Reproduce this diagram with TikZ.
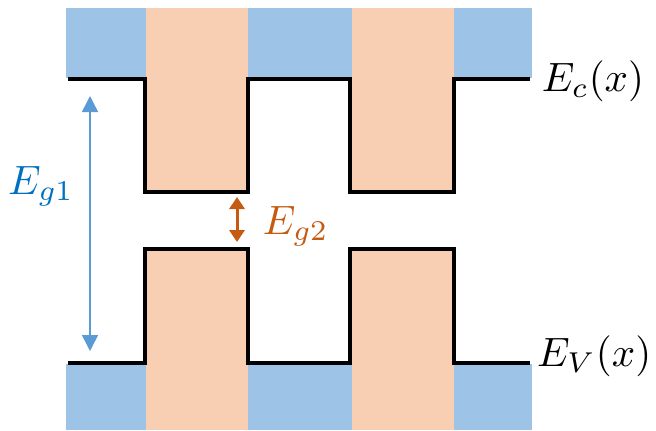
\documentclass[tikz,border=0pt]{standalone}
\usepackage{xcolor}
\usetikzlibrary{arrows.meta}

\definecolor{bandblue}{HTML}{9DC3E6}
\definecolor{wellorange}{HTML}{F8CFB2}
\definecolor{gapblue}{HTML}{5B9BD5}
\definecolor{labelblue}{HTML}{0070C0}
\definecolor{gaporange}{HTML}{C55A11}

\begin{document}
\begin{tikzpicture}[x=0.5pt, y=-0.5pt]
        \tikzstyle{barrier} = [fill=bandblue, draw=none]
        \tikzstyle{well} = [fill=wellorange, draw=none]
        \tikzstyle{edge} = [draw=black, line width=2pt, line join=miter]
        \tikzstyle{lbl} = [inner sep=0pt, scale=2.05]

        \useasboundingbox (0,0) rectangle (656,430);

        % conduction band
        \fill [barrier] (66,8) rectangle (146,78);
        \fill [barrier] (248,8) rectangle (352,78);
        \fill [barrier] (454,8) rectangle (532,78);
        \fill [well] (146,8) rectangle (248,192);
        \fill [well] (352,8) rectangle (454,192);
        \draw [edge] (68,79) -- (145,79) -- (145,192) -- (248,192) -- (248,79)
            -- (350,79) -- (350,192) -- (454,192) -- (454,79) -- (530,79);

        % valence band
        \fill [barrier] (66,364) rectangle (146,430);
        \fill [barrier] (248,364) rectangle (352,430);
        \fill [barrier] (454,364) rectangle (532,430);
        \fill [well] (146,249) rectangle (248,430);
        \fill [well] (352,249) rectangle (454,430);
        \draw [edge] (68,363) -- (145,363) -- (145,249) -- (248,249) -- (248,363)
            -- (350,363) -- (350,249) -- (454,249) -- (454,363) -- (530,363);

        % gaps
        \coordinate (g1top) at (90,96);
        \coordinate (g1bot) at (90,351);
        \coordinate (g2top) at (237,197);
        \coordinate (g2bot) at (237,242);
        \draw [gapblue, line width=0.75pt, {Triangle[width=8pt,length=8pt]}-{Triangle[width=8pt,length=8pt]}] (g1top) -- (g1bot);
        \draw [gaporange, line width=1.5pt, {Triangle[width=7.5pt,length=6pt]}-{Triangle[width=7.5pt,length=6pt]}] (g2top) -- (g2bot);

        \node [lbl, text=labelblue] (eg1) at (41,186) {$E_{g1}$};
        \node [lbl, text=gaporange, anchor=west] (eg2) at (262,226) {$E_{g2}$};
        \node [lbl, anchor=west] (ec) at (541,81) {$E_c(x)$};
        \node [lbl, anchor=east] (ev) at (652,356) {$E_V(x)$};
    \end{tikzpicture}
\end{document}
